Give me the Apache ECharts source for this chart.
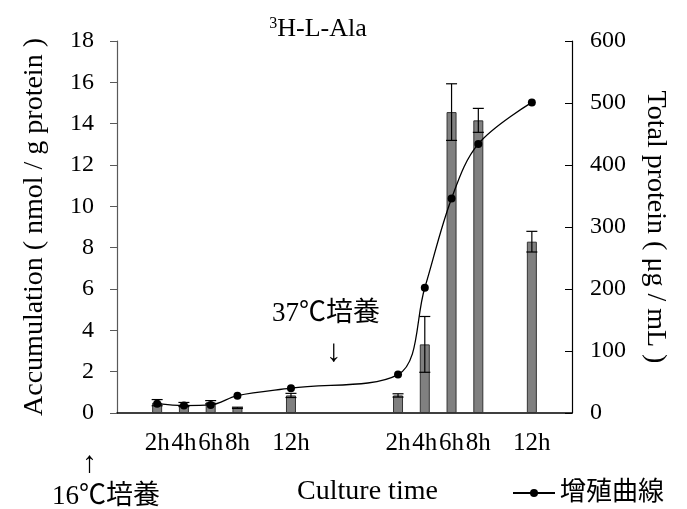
<!DOCTYPE html>
<html>
<head>
<meta charset="utf-8">
<script src="https://cdn.jsdelivr.net/npm/echarts@6/dist/echarts.min.js"></script>
<style>
  html, body { margin: 0; padding: 0; background: #fff; }
  #main { width: 687px; height: 509px; }
</style>
</head>
<body>
<div id="main"></div>
<script>
// time slots, 2h apart; empty strings are gaps on the time axis
const timeLabels = ['', '2h', '4h', '6h', '8h', '', '12h', '', '', '', '2h', '4h', '6h', '8h', '', '12h', ''];
// 3H-L-Ala accumulation (nmol / g protein)
const accumulation = [null, 0.5, 0.41, 0.52, 0.25, null, 0.85, null, null, null, 0.85, 3.32, 14.56, 14.16, null, 8.29, null];
const accumulationErr = [null, 0.15, 0.1, 0.08, 0.03, null, 0.1, null, null, null, 0.08, 1.35, 1.37, 0.58, null, 0.5, null];
// total protein (ug / mL)
const totalProtein = [null, 15, 12, 13, 28, null, 40, null, null, null, 62, 202, 346, 434, null, 501, null];

const leftTicks = { min: 0, max: 18, interval: 2 };
const rightTicks = { min: 0, max: 600, interval: 100 };

const serif = "'Liberation Serif', 'Times New Roman', serif";
const cjk = "'Liberation Serif', 'Noto Sans CJK JP', serif";

const errData = [];
accumulation.forEach((v, i) => {
  if (v != null) errData.push([i, v, accumulationErr[i]]);
});

const chart = echarts.init(document.getElementById('main'));

chart.setOption({
  animation: false,
  backgroundColor: '#fff',
  title: {
    text: '{sup|3}{b|H-L-Ala}',
    left: 313,
    top: 11,
    textAlign: 'center',
    textStyle: {
      fontWeight: 'normal',
      rich: {
        sup: { fontFamily: serif, fontSize: 16, fontWeight: 'normal', color: '#000', verticalAlign: 'top', padding: [0, 0, 11, 0] },
        b: { fontFamily: serif, fontSize: 26, fontWeight: 'normal', color: '#000' }
      }
    }
  },
  legend: {
    data: ['增殖曲線'],
    left: 507,
    top: 475,
    itemWidth: 42,
    itemHeight: 10,
    itemGap: 4,
    textStyle: { fontFamily: cjk, fontSize: 26, color: '#000' }
  },
  grid: { left: 117, right: 115, top: 41, bottom: 96, outerBoundsMode: 'none' },
  xAxis: {
    type: 'category',
    data: timeLabels,
    boundaryGap: true,
    name: 'Culture time',
    nameLocation: 'middle',
    nameGap: 65,
    nameTextStyle: { fontFamily: serif, fontSize: 28, color: '#000', padding: [0, 0, 0, 46] },
    axisLine: { lineStyle: { color: '#000', width: 1.5 } },
    axisTick: { show: false },
    axisLabel: { interval: 0, margin: 18, fontFamily: serif, fontSize: 25, color: '#000' }
  },
  yAxis: [
    {
      type: 'value',
      min: leftTicks.min, max: leftTicks.max, interval: leftTicks.interval,
      name: 'Accumulation ( nmol / g protein )',
      nameLocation: 'middle',
      nameGap: 68,
      nameTextStyle: { fontFamily: serif, fontSize: 28, color: '#000' },
      axisLine: { show: true, lineStyle: { color: '#595959', width: 1.2 } },
      axisTick: { show: true, length: 7, lineStyle: { color: '#595959' } },
      splitLine: { show: false },
      axisLabel: { margin: 23, fontFamily: serif, fontSize: 24, color: '#000' }
    },
    {
      type: 'value',
      position: 'right',
      min: rightTicks.min, max: rightTicks.max, interval: rightTicks.interval,
      name: 'Total protein ( μg / mL )',
      nameLocation: 'middle',
      nameRotate: -90,
      nameGap: 69,
      nameTextStyle: { fontFamily: serif, fontSize: 28, color: '#000' },
      axisLine: { show: true, lineStyle: { color: '#000', width: 1.2 } },
      axisTick: { show: true, inside: true, length: 7, lineStyle: { color: '#000' } },
      splitLine: { show: false },
      axisLabel: { margin: 18, fontFamily: serif, fontSize: 24, color: '#000' }
    }
  ],
  series: [
    {
      name: 'Accumulation',
      type: 'bar',
      data: accumulation,
      barWidth: 10,
      itemStyle: { color: '#808080', borderColor: '#333', borderWidth: 1 },
      z: 2
    },
    {
      name: 'err',
      type: 'custom',
      data: errData,
      z: 3,
      renderItem: function (params, api) {
        const x = api.value(0), v = api.value(1), e = api.value(2);
        const top = api.coord([x, v + e]);
        const bot = api.coord([x, Math.max(0, v - e)]);
        const hw = 5.5;
        const st = { stroke: '#000', lineWidth: 1.2 };
        return {
          type: 'group',
          children: [
            { type: 'line', shape: { x1: top[0], y1: top[1], x2: bot[0], y2: bot[1] }, style: st },
            { type: 'line', shape: { x1: top[0] - hw, y1: top[1], x2: top[0] + hw, y2: top[1] }, style: st },
            { type: 'line', shape: { x1: bot[0] - hw, y1: bot[1], x2: bot[0] + hw, y2: bot[1] }, style: st }
          ]
        };
      }
    },
    {
      name: '增殖曲線',
      type: 'line',
      yAxisIndex: 1,
      data: totalProtein,
      connectNulls: true,
      smooth: 0.35,
      symbol: 'circle',
      symbolSize: 8,
      itemStyle: { color: '#000' },
      lineStyle: { color: '#000', width: 1.3 },
      z: 4
    }
  ],
  graphic: [
    { type: 'text', left: 272, top: 300, style: { text: '37℃培養', font: '27px ' + cjk, fill: '#000' } },
    { type: 'text', left: 326, top: 337, style: { text: '↓', font: '31px ' + cjk, fill: '#000' } },
    { type: 'text', left: 82, top: 449, style: { text: '↑', font: '30px ' + cjk, fill: '#000' } },
    { type: 'text', left: 52, top: 483, style: { text: '16℃培養', font: '27px ' + cjk, fill: '#000' } }
  ]
});
</script>
</body>
</html>
